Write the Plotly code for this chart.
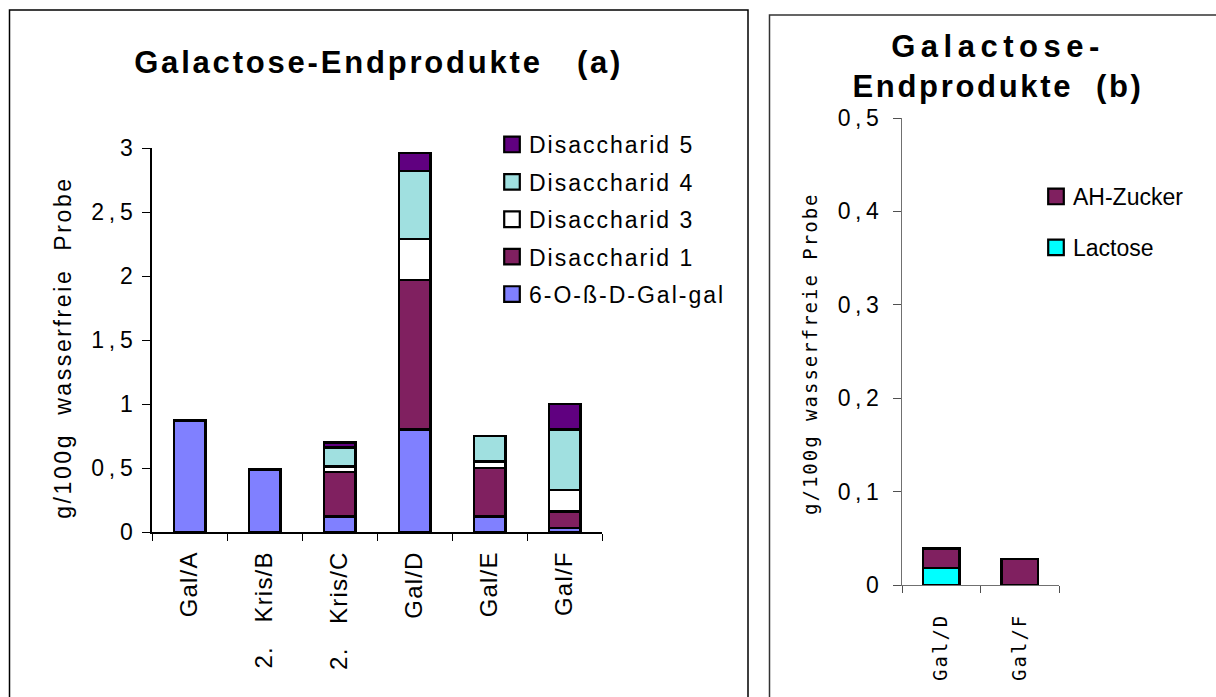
import plotly.graph_objects as go

W, H = 1216, 697

# ---------------- data (chart a) ----------------
cats_a = ["Gal/A", "2.\u00a0\u00a0\u00a0Kris/B", "2.\u00a0\u00a0\u00a0Kris/C", "Gal/D", "Gal/E", "Gal/F"]
gal_gal = [0.87, 0.49, 0.12, 0.80, 0.12, 0.03]
dis1 = [None, None, 0.35, 1.17, 0.38, 0.13]
dis3 = [None, None, 0.04, 0.32, 0.05, 0.17]
dis4 = [None, None, 0.15, 0.53, 0.20, 0.47]
dis5 = [None, None, 0.04, 0.14, None, 0.20]
names_a = ["6-O-ß-D-Gal-gal", "Disaccharid 1", "Disaccharid 3", "Disaccharid 4", "Disaccharid 5"]
colors_a = ["#8080FF", "#802060", "#FFFFFF", "#A0E0E0", "#600080"]
yticks_a = [0, 0.5, 1, 1.5, 2, 2.5, 3]
yticklabels_a = ["0", "0,5", "1", "1,5", "2", "2,5", "3"]

# ---------------- data (chart b) ----------------
cats_b = ["Gal/D", "Gal/F"]
lactose = [0.018, None]
ah_zucker = [0.021, 0.028]
names_b = ["Lactose", "AH-Zucker"]
colors_b = ["#00FFFF", "#802060"]
yticks_b = [0, 0.1, 0.2, 0.3, 0.4, 0.5]
yticklabels_b = ["0", "0,1", "0,2", "0,3", "0,4", "0,5"]

title_a = "Galactose-Endprodukte\u00a0\u00a0\u00a0(a)"
title_b = "Galactose-<br>Endprodukte\u00a0\u00a0(b)"
ytitle_a = "g/100g\u00a0\u00a0wasserfreie\u00a0\u00a0Probe"
ytitle_b = "g/100g wasserfreie Probe"


def fx(p):
    return p / W


def fy(p):
    return 1 - p / H


ARIAL = "Arial, Liberation Sans, sans-serif"
MONO = "DejaVu Sans Mono, monospace"

fig = go.Figure()

n_a = len(names_a)
for i, (vals, name, col) in enumerate(zip([gal_gal, dis1, dis3, dis4, dis5], names_a, colors_a)):
    fig.add_trace(go.Bar(
        x=cats_a, y=vals, name=name, width=0.42,
        marker=dict(color=col, line=dict(color="black", width=2.5)),
        xaxis="x", yaxis="y", legend="legend", legendgroup=name,
        legendrank=n_a - i, hoverinfo="skip",
    ))

n_b = len(names_b)
for i, (vals, name, col) in enumerate(zip([lactose, ah_zucker], names_b, colors_b)):
    fig.add_trace(go.Bar(
        x=cats_b, y=vals, name=name, width=0.46,
        marker=dict(color=col, line=dict(color="black", width=2.5)),
        xaxis="x2", yaxis="y2", legend="legend2", legendgroup=name,
        legendrank=n_b - i, hoverinfo="skip",
    ))

fig.update_layout(
    template="none",
    width=W, height=H,
    margin=dict(l=0, r=0, t=0, b=0, pad=0, autoexpand=False),
    paper_bgcolor="white", plot_bgcolor="white",
    barmode="stack",
    font=dict(family=ARIAL, color="black"),
    xaxis=dict(
        domain=[fx(152), fx(602)], anchor="y", type="category", automargin=False,
        range=[-0.5, 5.5], showline=True, linecolor="black", linewidth=1.5,
        ticks="outside", ticklen=7, tickwidth=1.2, tickcolor="black",
        tickson="boundaries", tickangle=-90, showgrid=False, zeroline=False,
        tickfont=dict(family=ARIAL, size=24), ticklabelstandoff=8,
    ),
    yaxis=dict(
        domain=[fy(532), fy(148)], anchor="x", range=[0, 3], automargin=False,
        showline=True, linecolor="black", linewidth=1.5,
        ticks="outside", ticklen=8, tickwidth=1.2, tickcolor="black",
        tickmode="array", tickvals=yticks_a, ticktext=yticklabels_a,
        showgrid=False, zeroline=False,
        tickfont=dict(family=ARIAL, size=23), ticklabelstandoff=0,
    ),
    xaxis2=dict(
        domain=[fx(902), fx(1059)], anchor="y2", type="category", automargin=False,
        range=[-0.5, 1.5], showline=True, linecolor="#707070", linewidth=1.2,
        ticks="outside", ticklen=7, tickwidth=1.2, tickcolor="#505050",
        tickson="boundaries", tickangle=-90, showgrid=False, zeroline=False,
        tickfont=dict(family=MONO, size=19), ticklabelstandoff=20,
    ),
    yaxis2=dict(
        domain=[fy(585), fy(118)], anchor="x2", range=[0, 0.5], automargin=False,
        showline=True, linecolor="#707070", linewidth=1.2,
        ticks="outside", ticklen=8, tickwidth=1.2, tickcolor="#505050",
        tickmode="array", tickvals=yticks_b, ticktext=yticklabels_b,
        showgrid=False, zeroline=False,
        tickfont=dict(family=ARIAL, size=23), ticklabelstandoff=5,
    ),
    legend=dict(
        x=fx(489), y=fy(123), xanchor="left", yanchor="top",
        traceorder="grouped", tracegroupgap=4.5,
        font=dict(family=ARIAL, size=23), bgcolor="rgba(0,0,0,0)",
        itemclick=False, itemdoubleclick=False,
    ),
    legend2=dict(
        x=fx(1033), y=fy(175), xanchor="left", yanchor="top",
        traceorder="grouped", tracegroupgap=18,
        font=dict(family=ARIAL, size=23), bgcolor="rgba(0,0,0,0)",
        itemclick=False, itemdoubleclick=False,
    ),
    shapes=[
        dict(type="rect", xref="paper", yref="paper",
             x0=fx(9.5), x1=fx(748), y0=-0.05, y1=fy(10),
             line=dict(color="black", width=1.5), fillcolor="rgba(0,0,0,0)", layer="below"),
        dict(type="rect", xref="paper", yref="paper",
             x0=fx(769.5), x1=1.05, y0=-0.05, y1=fy(15),
             line=dict(color="#333333", width=1.5), fillcolor="rgba(0,0,0,0)", layer="below"),
    ],
    annotations=[
        dict(text="<b>" + title_a + "</b>", xref="paper", yref="paper",
             x=fx(378), y=fy(63), xanchor="center", yanchor="middle",
             showarrow=False, font=dict(family=ARIAL, size=31)),
        dict(text="<b>" + title_b + "</b>", xref="paper", yref="paper",
             x=fx(998), y=fy(66), xanchor="center", yanchor="middle",
             showarrow=False, font=dict(family=ARIAL, size=31)),
        dict(text=ytitle_a, xref="paper", yref="paper",
             x=fx(63), y=fy(348), xanchor="center", yanchor="middle",
             textangle=-90, showarrow=False, font=dict(family=ARIAL, size=23)),
        dict(text=ytitle_b, xref="paper", yref="paper",
             x=fx(810), y=fy(353), xanchor="center", yanchor="middle",
             textangle=-90, showarrow=False, font=dict(family=MONO, size=19)),
    ],
    showlegend=True,
)

post = """
document.body.style.margin = '0px';
document.body.style.overflow = 'hidden';
var gd = document.getElementById('{plot_id}');
function ls(sel, v){ gd.querySelectorAll(sel).forEach(function(e){ e.style.letterSpacing = v; }); }
ls('.xtick text', '1.2px');
ls('.ytick text', '4.8px');
ls('.x2tick text', '2px');
ls('.y2tick text', '4.5px');
ls('.legend .legendtext', '2px');
ls('.legend2 .legendtext', '2px');
gd.querySelectorAll('.scrollbox').forEach(function(e){ e.removeAttribute('clip-path'); });
gd.querySelectorAll('.legendpoints path').forEach(function(p){
  var t = p.getAttribute('transform') || '';
  p.setAttribute('transform', t + ' translate(3,0) scale(1.3)');
  p.style.strokeWidth = '1.7px';
});
ls('.annotation[data-index="0"] .annotation-text', '2.8px');
ls('.annotation[data-index="1"] .annotation-text', '2.7px');
var l1 = gd.querySelector('.annotation[data-index="1"] .annotation-text tspan.line');
if (l1) { l1.style.letterSpacing = '5.5px'; }
ls('.annotation[data-index="2"] .annotation-text', '2.6px');
ls('.annotation[data-index="3"] .annotation-text', '2px');
"""

fig.write_html("out.html", post_script=post, config={"displayModeBar": False})
